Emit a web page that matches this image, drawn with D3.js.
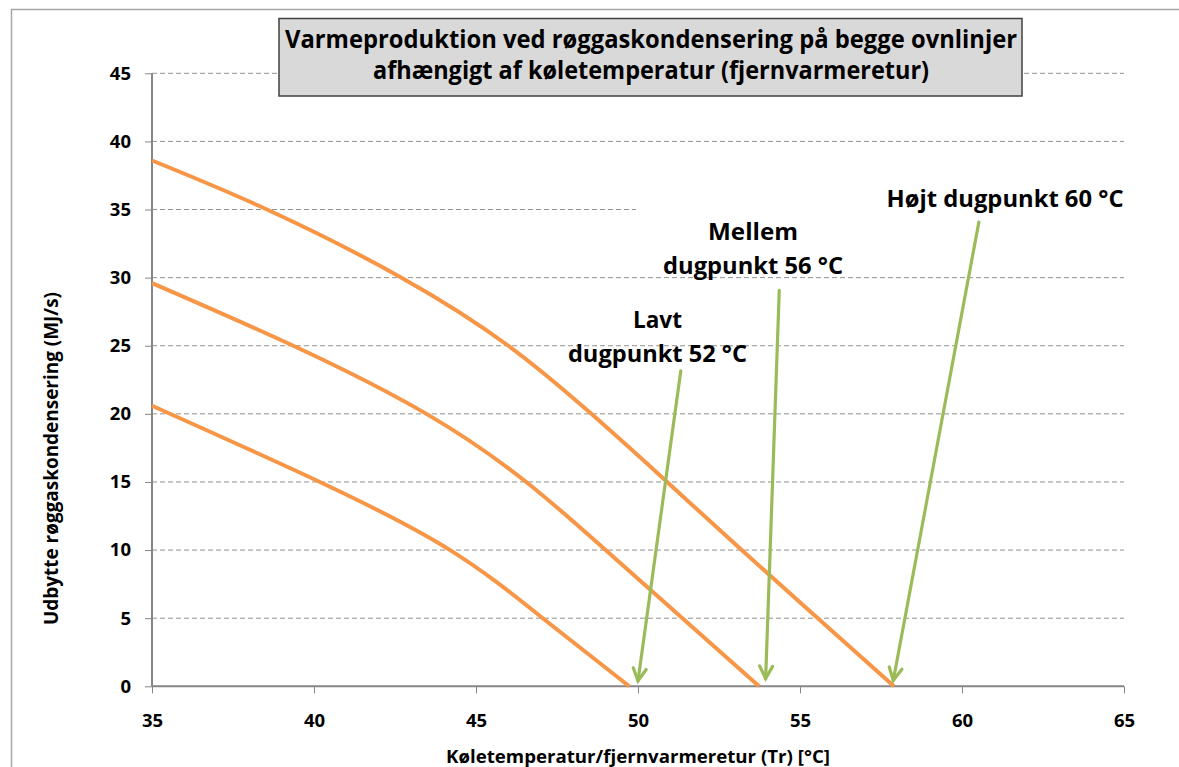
<!DOCTYPE html>
<html>
<head>
<meta charset="utf-8">
<script src="https://cdn.jsdelivr.net/npm/d3@7"></script>
<style>
	body { margin: 0; background: #fff; }
	svg text { font-family: "Open Sans", "DejaVu Sans", sans-serif; font-weight: bold; fill: #000; }
</style>
</head>
<body>
<svg id="chart" width="1179" height="767"></svg>
<script>

// curves: cooling temperature (x) -> yield (y)
var tempHigh = [35, 38.55, 42.7, 46.0, 48.56, 50.9, 53.2, 55.55, 57.9]
var yieldHigh = [38.6, 35, 30, 25, 20, 15, 10, 5, 0]

var tempMid = [35, 39.36, 43.47, 46.55, 49.0, 51.37, 53.74]
var yieldMid = [29.6, 25, 20, 15, 10, 5, 0]

var tempLow = [35, 40.18, 44.2, 47.06, 49.73]
var yieldLow = [20.6, 15, 10, 5, 0]

var xTicks = [35, 40, 45, 50, 55, 60, 65]
var yTicks = [0, 5, 10, 15, 20, 25, 30, 35, 40, 45]

var titleLines = ["Varmeproduktion ved røggaskondensering på  begge ovnlinjer", "afhængigt af køletemperatur (fjernvarmeretur)"]
var xTitle = "Køletemperatur/fjernvarmeretur (Tr) [°C]"
var yTitle = "Udbytte røggaskondensering (MJ/s)"

// dew point notes, anchors in data units
var noteLines = [["Lavt", "dugpunkt 52 °C"], ["Mellem", "dugpunkt 56 °C"], ["Højt dugpunkt 60 °C"]]
var noteX = [50.6, 53.55, 61.33]
var noteY = [26.28, 32.75, 35.15]
var arrowFrom = [[51.32, 23.15], [54.36, 29.07], [60.52, 34.07]]
var arrowTo = [[50.0, 0.4], [53.94, 0.57], [57.88, 0.44]]


var svg = d3.select("#chart")

var x = d3.scaleLinear().domain([35, 65]).range([152, 1124])
var y = d3.scaleLinear().domain([0, 45]).range([686.3, 73.3])

var orange = "#F79646"
var green = "#9BBB59"
var axisGrey = "#868686"

// outer chart border (right and bottom run off the page)
svg.append("rect")
	.attr("x", 11.5).attr("y", 9.5)
	.attr("width", 1300).attr("height", 900)
	.attr("fill", "none")
	.attr("stroke", "#A6A6A6")
	.attr("stroke-width", 1.5)

// dashed gridlines
svg.append("g")
	.selectAll("line")
	.data(yTicks.filter(function(d) { return d > 0 }))
	.enter().append("line")
	.attr("x1", x(35)).attr("x2", x(65))
	.attr("y1", function(d) { return y(d) })
	.attr("y2", function(d) { return y(d) })
	.attr("stroke", "#929292")
	.attr("stroke-width", 1)
	.attr("stroke-dasharray", "5,3")

// axes
var yAxis = d3.axisLeft(y).tickValues(yTicks).tickSize(7).tickPadding(14).tickFormat(d3.format("d"))
var xAxis = d3.axisBottom(x).tickValues(xTicks).tickSize(7).tickPadding(21).tickFormat(d3.format("d"))

var gy = svg.append("g").attr("transform", "translate(" + x(35) + ",0)").call(yAxis)
var gx = svg.append("g").attr("transform", "translate(0," + y(0) + ")").call(xAxis)

gy.select(".domain").attr("d", "M0," + y(45) + "V" + y(0)).attr("stroke", axisGrey).attr("stroke-width", 2)
gx.select(".domain").attr("d", "M" + x(35) + ",0H" + x(65)).attr("stroke", axisGrey).attr("stroke-width", 2)
svg.selectAll(".tick line").attr("stroke", axisGrey).attr("stroke-width", 1)
svg.selectAll(".tick text")
	.attr("font-family", "'Open Sans', sans-serif")
	.attr("font-weight", "bold")
	.attr("font-size", 18.5)
	.attr("fill", "#000")

// curves, smoothed like the spreadsheet line
var line = d3.line()
	.x(function(d) { return x(d[0]) })
	.y(function(d) { return y(d[1]) })
	.curve(d3.curveNatural)

var series = [
	d3.zip(tempHigh, yieldHigh),
	d3.zip(tempMid, yieldMid),
	d3.zip(tempLow, yieldLow)
]

svg.append("g")
	.selectAll("path")
	.data(series)
	.enter().append("path")
	.attr("d", line)
	.attr("fill", "none")
	.attr("stroke", orange)
	.attr("stroke-width", 4)
	.attr("stroke-linecap", "butt")

// white text box behind the top note, hides part of the 35 gridline
svg.append("rect")
	.attr("x", 636).attr("y", 182)
	.attr("width", 500).attr("height", 40)
	.attr("fill", "#fff")

// title box
svg.append("rect")
	.attr("x", 279).attr("y", 18.5)
	.attr("width", 743).attr("height", 77.5)
	.attr("fill", "#D9D9D9")
	.attr("stroke", "#404040")
	.attr("stroke-width", 1.5)

var titleLen = [732, 556]
var titleBase = [48, 79]
for (var i = 0; i < titleLines.length; i++)
{
	svg.append("text")
		.attr("x", 651).attr("y", titleBase[i])
		.attr("text-anchor", "middle")
		.attr("font-size", 24.5)
		.attr("textLength", titleLen[i])
		.attr("lengthAdjust", "spacingAndGlyphs")
		.text(titleLines[i])
}

// axis titles
svg.append("text")
	.attr("x", 638).attr("y", 762.5)
	.attr("text-anchor", "middle")
	.attr("font-size", 17.5)
	.attr("textLength", 384)
	.attr("lengthAdjust", "spacingAndGlyphs")
	.text(xTitle)

svg.append("text")
	.attr("transform", "translate(58.3,458.5) rotate(-90)")
	.attr("text-anchor", "middle")
	.attr("font-size", 19)
	.attr("textLength", 333)
	.attr("lengthAdjust", "spacingAndGlyphs")
	.text(yTitle)

// notes
var noteLen = [[49, 179], [90, 180], [237]]
for (var i = 0; i < noteLines.length; i++)
{
	var lines = noteLines[i]
	for (var j = 0; j < lines.length; j++)
	{
		svg.append("text")
			.attr("x", x(noteX[i]))
			.attr("y", y(noteY[i]) + j * 33.7)
			.attr("text-anchor", "middle")
			.attr("font-size", 24)
			.attr("textLength", noteLen[i][j])
			.attr("lengthAdjust", "spacingAndGlyphs")
			.text(lines[j])
	}
}

// arrows with open heads
function drawArrow(from, to)
{
	var x1 = x(from[0]), y1 = y(from[1])
	var x2 = x(to[0]), y2 = y(to[1])
	var ang = Math.atan2(y2 - y1, x2 - x1)
	var headLen = 14
	var spread = Math.PI / 6.5

	var g = svg.append("g")
		.attr("stroke", green)
		.attr("stroke-width", 3.2)
		.attr("fill", "none")
		.attr("stroke-linecap", "round")

	g.append("line")
		.attr("x1", x1).attr("y1", y1)
		.attr("x2", x2).attr("y2", y2)

	g.append("path")
		.attr("stroke-linejoin", "miter")
		.attr("d", "M" + (x2 - headLen * Math.cos(ang - spread)) + "," + (y2 - headLen * Math.sin(ang - spread))
			+ "L" + x2 + "," + y2
			+ "L" + (x2 - headLen * Math.cos(ang + spread)) + "," + (y2 - headLen * Math.sin(ang + spread)))
}

for (var i = 0; i < arrowFrom.length; i++)
	drawArrow(arrowFrom[i], arrowTo[i])

</script>
</body>
</html>
